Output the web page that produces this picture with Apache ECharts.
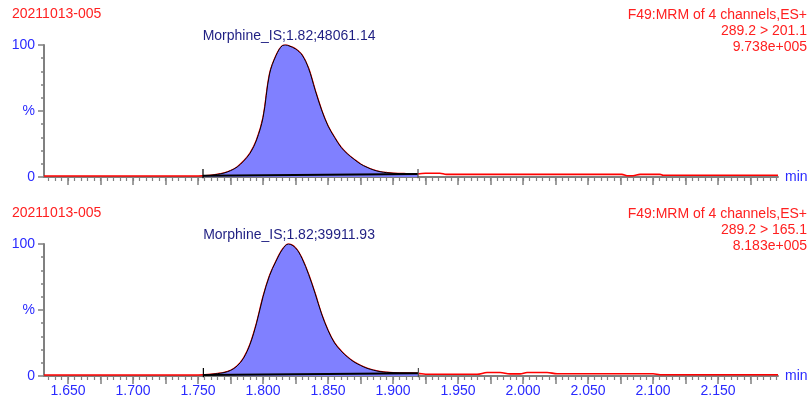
<!DOCTYPE html>
<html>
<head>
<meta charset="utf-8">
<script src="https://cdn.jsdelivr.net/npm/echarts@6/dist/echarts.min.js"></script>
<style>
  html, body { margin: 0; padding: 0; background: #ffffff; }
  #chart { width: 810px; height: 407px; }
</style>
</head>
<body>
<div id="chart"></div>
<script>
// ---- Sample / acquisition info ----
const sampleName = '20211013-005';
const functionName = 'F49:MRM of 4 channels,ES+';
const transitions = ['289.2 > 201.1', '289.2 > 165.1'];
const maxIntensity = ['9.738e+005', '8.183e+005'];

// ---- Integrated peak info ----
const compound = 'Morphine_IS';
const retentionTimes = [1.82, 1.82];
const peakAreas = ['48061.14', '39911.93'];
const peakStart = [1.7538, 1.7541];
const peakEnd = [1.9192, 1.9195];
const baselineStartPct = [1.0, 0.8];
const baselineEndPct = [2.3, 2.0];

// ---- Axis labels ----
const xTickLabels = ['1.650', '1.700', '1.750', '1.800', '1.850', '1.900', '1.950', '2.000', '2.050', '2.100', '2.150'];
const yTickLabels = { 0: '0', 50: '%', 100: '100' };

// ---- Chromatogram 1: 289.2 > 201.1 (time in min, relative intensity in %) ----
const times1 = [1.6315, 1.700, 1.750, 1.7538, 1.760, 1.765, 1.770, 1.775, 1.780, 1.785, 1.790, 1.795,
  1.800, 1.805, 1.810, 1.815, 1.8175, 1.820, 1.825, 1.830, 1.835, 1.840, 1.845, 1.850, 1.855, 1.860,
  1.865, 1.870, 1.875, 1.880, 1.885, 1.890, 1.895, 1.900, 1.910, 1.9192, 1.925, 1.936, 1.941, 2.076,
  2.080, 2.0846, 2.090, 2.1054, 2.1077, 2.1961];
const intensity1 = [0.8, 0.8, 0.8, 0.9, 1.2, 2.0, 3.0, 4.8, 7.5, 12, 18, 28,
  45, 78, 92, 99.6, 100, 99.3, 97, 92.4, 82.3, 66, 50.8, 38.6, 30, 22.5,
  17.4, 13.4, 9.8, 7.3, 5.3, 4.0, 3.3, 2.8, 2.5, 2.4, 2.8, 2.8, 2.0, 2.0,
  1.0, 1.0, 2.0, 2.0, 1.3, 1.3];

// ---- Chromatogram 2: 289.2 > 165.1 ----
const times2 = [1.6315, 1.700, 1.750, 1.7541, 1.760, 1.765, 1.770, 1.775, 1.780, 1.785, 1.790, 1.795,
  1.800, 1.805, 1.810, 1.815, 1.8195, 1.825, 1.830, 1.835, 1.840, 1.845, 1.850, 1.855, 1.860, 1.865,
  1.870, 1.875, 1.880, 1.885, 1.890, 1.895, 1.900, 1.910, 1.9195, 1.925, 1.9646, 1.9723, 1.9823, 1.990,
  1.9977, 2.0031, 2.0185, 2.0262, 2.100, 2.1054, 2.1961];
const intensity2 = [0.8, 0.8, 0.8, 0.9, 1.2, 1.8, 2.6, 4.2, 7.5, 13.5, 24, 40,
  60, 76, 87, 96, 100, 97, 89, 77, 62.6, 47, 34.5, 25, 19, 14.3,
  10.6, 8, 5.8, 4.4, 3.3, 2.8, 2.5, 2.2, 2.0, 1.3, 1.3, 2.6, 2.6, 1.6,
  1.6, 2.6, 2.6, 1.7, 1.7, 1.0, 1.0];

const traces = [
  { t: times1, v: intensity1 },
  { t: times2, v: intensity2 }
];

// ---- Layout ----
const FONT = 'Arial, "Liberation Sans", sans-serif';
const BLUE = '#2a2aff';
const RED = '#ff2020';
const NAVY = '#1e1e82';
const AXIS_GRAY = '#808080';
const X_MIN = 1.6315, X_MAX = 2.1961;
const PLOT_LEFT = 44, PX_PER_MIN = 1300;
const panelTop = [45, 244];
const panelHeight = 132;
const px = v => PLOT_LEFT + (v - X_MIN) * PX_PER_MIN;

const grid = [], xAxis = [], yAxis = [], series = [];

traces.forEach((tr, p) => {
  const gData = grid.length;
  // data grid
  grid.push({ left: PLOT_LEFT, top: panelTop[p], width: px(X_MAX) - PLOT_LEFT, height: panelHeight });
  xAxis.push({
    type: 'value', gridIndex: gData, min: X_MIN, max: X_MAX,
    axisLine: { show: true, onZero: false, lineStyle: { color: AXIS_GRAY, width: 2 } },
    axisTick: { show: false }, axisLabel: { show: false }, splitLine: { show: false },
    name: 'min', nameLocation: 'end', nameGap: 7,
    nameTextStyle: { color: BLUE, fontSize: 14, fontFamily: FONT }
  });
  yAxis.push({
    type: 'value', gridIndex: gData, min: 0, max: 100, interval: 50,
    axisLine: { show: true, lineStyle: { color: AXIS_GRAY, width: 2 } },
    axisTick: { show: true, length: 6, lineStyle: { color: AXIS_GRAY, width: 1.5 } },
    minorTick: { show: true, splitNumber: 5, length: 3, lineStyle: { color: AXIS_GRAY, width: 1.5 } },
    axisLabel: {
      color: BLUE, fontSize: 14, fontFamily: FONT, margin: 9,
      formatter: v => yTickLabels[v] !== undefined ? yTickLabels[v] : ''
    },
    splitLine: { show: false }, minorSplitLine: { show: false }
  });

  // major ticks (0.025 min) with labels
  const gMajor = grid.length;
  grid.push({ left: px(1.65), top: panelTop[p], width: px(2.175) - px(1.65), height: panelHeight });
  xAxis.push({
    type: 'value', gridIndex: gMajor, min: 1.65, max: 2.175, interval: 0.025,
    axisLine: { show: false },
    axisTick: { show: true, length: 8, lineStyle: { color: AXIS_GRAY, width: 1.5 } },
    axisLabel: {
      show: p === 1, color: BLUE, fontSize: 14, fontFamily: FONT, margin: 8,
      formatter: v => { const s = v.toFixed(3); return xTickLabels.includes(s) ? s : ''; }
    },
    splitLine: { show: false }
  });
  yAxis.push({ type: 'value', gridIndex: gMajor, show: false, min: 0, max: 100 });

  // minor ticks (0.005 min)
  const gMinor = grid.length;
  grid.push({ left: px(1.635), top: panelTop[p], width: px(2.195) - px(1.635), height: panelHeight });
  xAxis.push({
    type: 'value', gridIndex: gMinor, min: 1.635, max: 2.195, interval: 0.005,
    axisLine: { show: false },
    axisTick: { show: true, length: 4, lineStyle: { color: AXIS_GRAY, width: 1.2 } },
    axisLabel: { show: false }, splitLine: { show: false }
  });
  yAxis.push({ type: 'value', gridIndex: gMinor, show: false, min: 0, max: 100 });

  const all = tr.t.map((t, i) => [t, tr.v[i]]);
  const peak = all.filter(d => d[0] >= peakStart[p] - 1e-9 && d[0] <= peakEnd[p] + 1e-9);

  // integrated peak area
  series.push({
    type: 'line', xAxisIndex: gData, yAxisIndex: gData, data: peak,
    smooth: 0.35, symbol: 'none', z: 3,
    lineStyle: { color: '#000000', width: 1 },
    areaStyle: { color: '#8080ff', opacity: 1 },
    markPoint: {
      symbol: 'circle', symbolSize: 0,
      label: {
        show: true, position: 'top', distance: 2, color: NAVY, fontSize: 14, fontFamily: FONT,
        formatter: compound + ';' + retentionTimes[p].toFixed(2) + ';' + peakAreas[p]
      },
      data: [{ coord: [retentionTimes[p], 100] }]
    }
  });
  // raw chromatogram trace
  series.push({
    type: 'line', xAxisIndex: gData, yAxisIndex: gData, data: all,
    smooth: 0.35, symbol: 'none', z: 2,
    lineStyle: { color: '#ff0000', width: 1.6 }
  });
  // integration baseline
  series.push({
    type: 'line', xAxisIndex: gData, yAxisIndex: gData, symbol: 'none', z: 4,
    data: [[peakStart[p], baselineStartPct[p]], [peakEnd[p], baselineEndPct[p]]],
    lineStyle: { color: '#000000', width: 2 }
  });
  // start / end markers of the integration
  series.push({
    type: 'line', xAxisIndex: gData, yAxisIndex: gData, symbol: 'none', z: 5, clip: false,
    data: [[peakStart[p], -1], [peakStart[p], 6]],
    lineStyle: { color: '#000000', width: 1.2 }
  });
  series.push({
    type: 'line', xAxisIndex: gData, yAxisIndex: gData, symbol: 'none', z: 5, clip: false,
    data: [[peakEnd[p], -1], [peakEnd[p], 6]],
    lineStyle: { color: '#505050', width: 1.2 }
  });
});

// header texts
const headerTop = [7, 206];
const graphic = [];
headerTop.forEach((top, p) => {
  graphic.push({
    type: 'text', left: 12, top: top,
    style: { text: sampleName, fill: RED, font: '14px ' + FONT }
  });
  graphic.push({
    type: 'text', right: 3, top: top,
    style: {
      text: functionName + '\n' + transitions[p] + '\n' + maxIntensity[p],
      fill: RED, font: '14px ' + FONT, textAlign: 'right', lineHeight: 16
    }
  });
});

const chart = echarts.init(document.getElementById('chart'), null, { renderer: 'canvas' });
chart.setOption({
  animation: false,
  backgroundColor: '#ffffff',
  grid, xAxis, yAxis, series, graphic
});
</script>
</body>
</html>
